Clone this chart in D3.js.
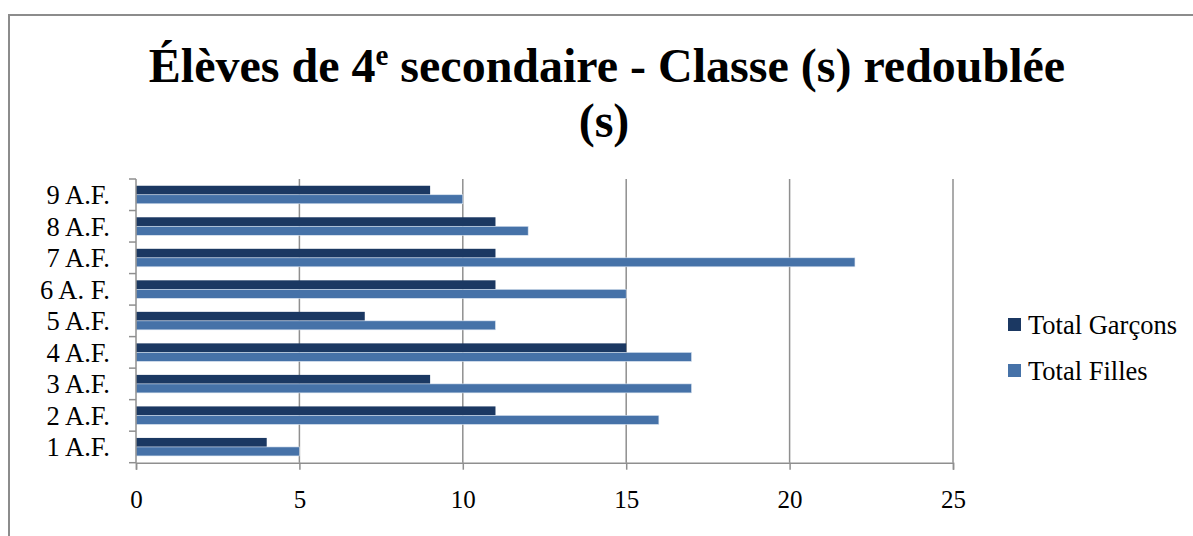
<!DOCTYPE html>
<html>
<head>
<meta charset="utf-8">
<script src="https://cdn.jsdelivr.net/npm/d3@7"></script>
<style>
  body { margin: 0; background: #fff; }
  text { font-family: "Liberation Serif", "Times New Roman", serif; }
</style>
</head>
<body>
<svg id="chart" width="1193" height="536"></svg>
<script>
// categories top to bottom as drawn
var categories = ["9 A.F.", "8 A.F.", "7 A.F.", "6 A. F.", "5 A.F.", "4 A.F.", "3 A.F.", "2 A.F.", "1 A.F."];
var garcons = [9, 11, 11, 11, 7, 15, 9, 11, 4];
var filles  = [10, 12, 22, 15, 11, 17, 17, 16, 5];
var seriesNames = ["Total Garçons", "Total Filles"];
var seriesColors = ["#1b3862", "#4672a8"];
var xTicks = [0, 5, 10, 15, 20, 25];

var serif = "'Liberation Serif', 'Times New Roman', serif";

var svg = d3.select("#chart"),
    width = +svg.attr("width"),
    height = +svg.attr("height");

// chart frame (top + left edge only visible)
svg.append("line").attr("x1", 8).attr("x2", width).attr("y1", 15).attr("y2", 15)
  .attr("stroke", "#8c8c8c").attr("stroke-width", 2);
svg.append("line").attr("x1", 9).attr("x2", 9).attr("y1", 14).attr("y2", height)
  .attr("stroke", "#8c8c8c").attr("stroke-width", 2);

// title
var title = svg.append("text")
  .attr("text-anchor", "middle")
  .style("font-family", serif)
  .style("font-weight", "bold")
  .style("font-size", "48px");
var t1 = title.append("tspan").attr("x", 607).attr("y", 82);
t1.append("tspan").text("Élèves de 4");
t1.append("tspan").attr("dy", -17).style("font-size", "29px").text("e");
t1.append("tspan").attr("dy", 17).text(" secondaire - Classe (s) redoublée");
title.append("tspan").attr("x", 604).attr("y", 137).text("(s)");

var x = d3.scaleLinear().domain([0, 25]).range([136, 953]);
var y = d3.scaleBand().domain(categories).range([179, 462.7])
  .paddingInner(0.4286).paddingOuter(0.2143);
var ySub = d3.scaleBand().domain([0, 1]).range([0, y.bandwidth()]);

// gridlines
svg.append("g").selectAll("line")
  .data(xTicks.slice(1))
  .enter().append("line")
  .attr("x1", function(d) { return x(d); })
  .attr("x2", function(d) { return x(d); })
  .attr("y1", 179).attr("y2", 462.7)
  .attr("stroke", "#8f8f8f").attr("stroke-width", 1.5);

// bars
var rows = categories.map(function(c, i) { return { cat: c, vals: [garcons[i], filles[i]] }; });
var grp = svg.append("g").selectAll("g")
  .data(rows)
  .enter().append("g")
  .attr("transform", function(d) { return "translate(0," + y(d.cat) + ")"; });

grp.selectAll("rect")
  .data(function(d) { return d.vals; })
  .enter().append("rect")
  .attr("x", x(0))
  .attr("y", function(d, i) { return ySub(i); })
  .attr("width", function(d) { return x(d) - x(0); })
  .attr("height", ySub.bandwidth())
  .attr("fill", function(d, i) { return seriesColors[i]; })
  .attr("stroke", function(d, i) { return i == 1 ? "#dbe5f1" : "none"; })
  .attr("stroke-width", 0.6);

// x axis
var xAxis = svg.append("g")
  .attr("transform", "translate(0,462.7)")
  .call(d3.axisBottom(x).tickValues(xTicks).tickSize(7).tickPadding(21));
xAxis.select(".domain").attr("stroke", "#8f8f8f").attr("stroke-width", 1.5);
xAxis.selectAll(".tick line").attr("stroke", "#8f8f8f").attr("stroke-width", 1.5);
xAxis.selectAll("text")
  .style("font-family", serif).style("font-size", "25px").attr("fill", "#000");

// y axis: line with ticks at band boundaries
svg.append("line").attr("x1", x(0)).attr("x2", x(0)).attr("y1", 179).attr("y2", 462.7)
  .attr("stroke", "#8f8f8f").attr("stroke-width", 1.5);
svg.append("g").selectAll("line")
  .data(d3.range(categories.length + 1))
  .enter().append("line")
  .attr("x1", x(0) - 7).attr("x2", x(0))
  .attr("y1", function(i) { return y.range()[0] + i * y.step(); })
  .attr("y2", function(i) { return y.range()[0] + i * y.step(); })
  .attr("stroke", "#8f8f8f").attr("stroke-width", 1.5);

svg.append("g").selectAll("text")
  .data(categories)
  .enter().append("text")
  .attr("x", 110)
  .attr("y", function(d) { return y(d) + y.bandwidth() / 2; })
  .attr("dy", "0.35em")
  .attr("text-anchor", "end")
  .style("font-family", serif)
  .style("font-size", "26.5px")
  .text(function(d) { return d; });

// legend
var legend = svg.append("g").selectAll("g")
  .data(seriesNames)
  .enter().append("g")
  .attr("transform", function(d, i) { return "translate(1008," + (325 + i * 46) + ")"; });
legend.append("rect")
  .attr("x", 0).attr("y", -7).attr("width", 13).attr("height", 13)
  .attr("fill", function(d, i) { return seriesColors[i]; });
legend.append("text")
  .attr("x", 20).attr("y", 0).attr("dy", "0.35em")
  .style("font-family", serif)
  .style("font-size", "26.5px")
  .text(function(d) { return d; });
</script>
</body>
</html>
